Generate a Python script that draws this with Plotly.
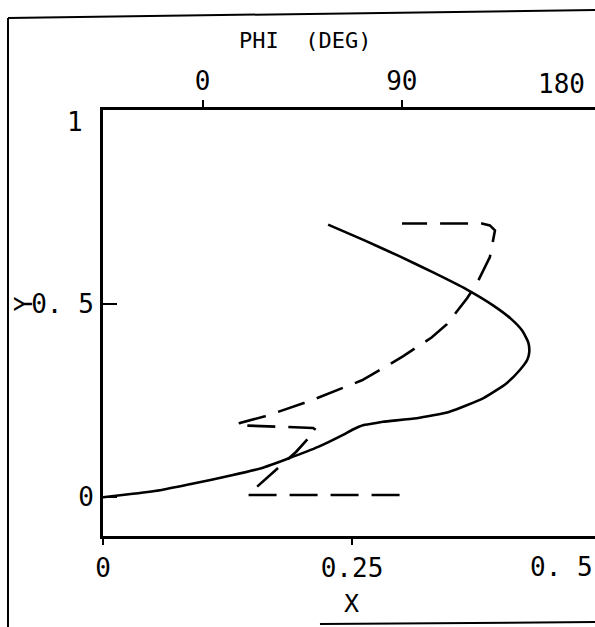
import plotly.graph_objects as go

# ---- data ----
# solid curve: X vs Y
solid_x = [0.0, 0.03, 0.059, 0.092, 0.126, 0.159, 0.186, 0.216, 0.241, 0.251, 0.261, 0.27,
           0.281, 0.315, 0.348, 0.382, 0.405, 0.419, 0.426, 0.428, 0.427, 0.421, 0.41,
           0.392, 0.365, 0.332, 0.298, 0.262, 0.226]
solid_y = [0.0, 0.009, 0.019, 0.036, 0.055, 0.075, 0.10, 0.13, 0.161, 0.175, 0.186, 0.19,
           0.195, 0.204, 0.221, 0.256, 0.294, 0.33, 0.355, 0.375, 0.40, 0.43, 0.46,
           0.495, 0.537, 0.58, 0.622, 0.664, 0.704]

# dashed curve: PHI (deg) vs Y
phi_deg = [89, 20.5, 21.4, 32.7, 42.2, 51.2, 49.9, 15.5, 16.9, 28.2, 35.0, 47.2, 53.0,
           65.2, 72.0, 84.7, 90.5, 103.6, 110.4, 119.5, 124.0, 129.8, 131.2, 132.1,
           129.8, 126.2, 90.1]
phi_y = [0.006, 0.006, 0.011, 0.07, 0.117, 0.174, 0.179, 0.186, 0.192, 0.209, 0.222,
         0.246, 0.259, 0.287, 0.302, 0.344, 0.364, 0.413, 0.447, 0.514, 0.553, 0.62,
         0.663, 0.689, 0.702, 0.707, 0.707]

x_tick_vals = [0, 0.25]
x_tick_text = ["0", "0.25"]
phi_tick_vals = [0, 90]
phi_tick_text = ["0", "90"]
y_tick_vals = [0, 0.5]
y_tick_text = ["0", "0. 5"]

X_RANGE = [0, 0.494]
PHI_RANGE = [-45, 177.3]
Y_RANGE = [-0.1, 1.0]

FONT = "DejaVu Sans Mono"
tick_font = dict(family=FONT, size=26, color="black")

fig = go.Figure()
fig.add_trace(go.Scatter(x=solid_x, y=solid_y, mode="lines",
                         line=dict(color="black", width=2.6, shape="spline", smoothing=0.5),
                         xaxis="x", yaxis="y", showlegend=False))
fig.add_trace(go.Scatter(x=phi_deg, y=phi_y, mode="lines",
                         line=dict(color="black", width=2.6, dash="28px,13px"),
                         xaxis="x2", yaxis="y", showlegend=False))

fig.update_layout(
    width=595, height=627,
    margin=dict(l=103, r=0, t=110, b=91),
    paper_bgcolor="white", plot_bgcolor="white",
    xaxis=dict(range=X_RANGE, tickvals=x_tick_vals, ticktext=x_tick_text,
               showgrid=False, zeroline=False, showline=True, linecolor="black",
               linewidth=3, ticks="outside", ticklen=6, tickwidth=2, tickcolor="black",
               tickfont=tick_font, ticklabelstandoff=1, automargin=False),
    xaxis2=dict(range=PHI_RANGE, overlaying="x", side="top", anchor="y",
                tickvals=phi_tick_vals, ticktext=phi_tick_text,
                showgrid=False, zeroline=False, showline=True, linecolor="black",
                linewidth=3, ticks="outside", ticklen=7, tickwidth=2, tickcolor="black",
                tickfont=tick_font, ticklabelstandoff=0, automargin=False),
    yaxis=dict(range=Y_RANGE, tickvals=y_tick_vals, ticktext=y_tick_text,
               showgrid=False, zeroline=False, showline=True, linecolor="black",
               linewidth=3, ticks="inside", ticklen=14, tickwidth=2, tickcolor="black",
               tickfont=tick_font, ticklabelstandoff=1, automargin=False),
)

# axis titles
fig.add_annotation(text="X", xref="x", yref="paper", x=0.25, y=-0.158,
                   xanchor="center", yanchor="middle", showarrow=False,
                   font=dict(family=FONT, size=25, color="black"))
fig.add_annotation(text="PHI  (DEG)", xref="paper", yref="paper", x=0.411, y=1.164,
                   xanchor="center", yanchor="middle", showarrow=False,
                   font=dict(family=FONT, size=22, color="black"))
fig.add_annotation(text="Y", xref="paper", yref="y", x=-0.161, y=0.5, textangle=-90,
                   xanchor="center", yanchor="middle", showarrow=False,
                   font=dict(family=FONT, size=25, color="black"))

# labels displaced at the plot edges
fig.add_annotation(text="1", xref="paper", yref="y", x=0, y=1, xanchor="right",
                   yanchor="middle", xshift=-18, yshift=-12, showarrow=False, font=tick_font)
fig.add_annotation(text="0. 5", xref="paper", yref="paper", x=1, y=-0.0728,
                   xanchor="right", yanchor="middle", xshift=0, showarrow=False, font=tick_font)
fig.add_annotation(text="180", xref="paper", yref="paper", x=1, y=1.061,
                   xanchor="right", yanchor="middle", xshift=-8, showarrow=False, font=tick_font)

# scanned page border
border = dict(color="black", width=2)
fig.add_shape(type="line", xref="paper", yref="paper", x0=-0.1931, y0=1.216, x1=1.0, y1=1.2347, line=border)
fig.add_shape(type="line", xref="paper", yref="paper", x0=-0.1931, y0=1.216, x1=-0.1931, y1=-0.2136, line=border)
fig.add_shape(type="line", xref="paper", yref="paper", x0=0.441, y0=-0.2066, x1=1.0, y1=-0.2019, line=border)

fig.write_html("out.html")
